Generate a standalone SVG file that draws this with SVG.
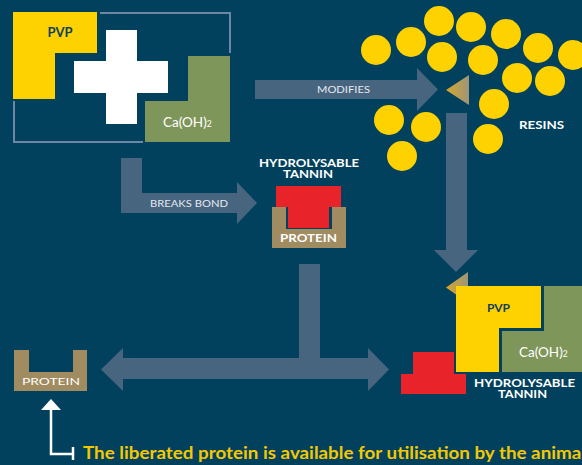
<svg xmlns="http://www.w3.org/2000/svg" width="582" height="465" viewBox="0 0 582 465">
<defs>
<style>
.bg{fill:#01415E}
.arrow{fill:#48657F}
.yellow{fill:#FDD200}
.green{fill:#7F965A}
.red{fill:#E8232A}
.tan{fill:#A08C60}
.frame{fill:none;stroke:#6D86A3;stroke-width:2}
.t{font-family:"Lato","Open Sans","DejaVu Sans",sans-serif}
.w{fill:#FFFFFF}
.lab{fill:#E4EAF0;font-size:9.5px}
.b{font-weight:bold}
.dk{fill:#12405E}
</style>
<linearGradient id="gold" x1="0" y1="0" x2="1" y2="0">
<stop offset="0" stop-color="#D6A62A"/>
<stop offset="1" stop-color="#9E9679"/>
</linearGradient>
</defs>
<rect class="bg" x="0" y="0" width="582" height="465"/>

<g id="connectors">
<!-- breaks bond L-arrow -->
<polygon class="arrow" points="121,158 142,158 142,193 237,193 237,182 257,203 237,224 237,213 121,213"/>
<!-- modifies arrow -->
<polygon class="arrow" points="255,80 417,80 417,68 438,89.5 417,111 417,99 255,99"/>
<!-- down arrow -->
<polygon class="arrow" points="446,113 467,113 467,250 478,250 456,272 434,250 446,250"/>
<!-- T connector with two heads -->
<polygon class="arrow" points="299,264 320,264 320,358 368,358 368,348 389,369.5 368,391 368,379 123,379 123,391 101,369.5 123,348 123,358 299,358"/>
<!-- white arrow to liberated protein -->
<polyline points="51,408 51,454 73,454" fill="none" stroke="#FFFFFF" stroke-width="2.5"/>
<line x1="73" y1="447" x2="73" y2="460" stroke="#FFFFFF" stroke-width="2.5"/>
<polygon points="51,399 61,410 41,410" fill="#FFFFFF"/>
</g>

<g id="pvp-plus-caoh">
<polyline class="frame" points="100,13 230,13 230,53"/>
<polyline class="frame" points="14,101 14,142 143,142"/>
<polygon class="yellow" points="13,12 97,12 97,53 55,53 55,99 13,99"/>
<text class="t b dk" x="60" y="37" font-size="13" text-anchor="middle">PVP</text>
<rect x="106" y="30" width="31" height="94" fill="#FFFFFF"/>
<rect x="74" y="61" width="94" height="32" fill="#FFFFFF"/>
<polygon class="green" points="188,56 230,56 230,142 145,142 145,101 188,101"/>
<text class="t w" x="163" y="127" font-size="13.5">Ca(OH)<tspan font-size="8.5">2</tspan></text>
</g>

<g id="label-modifies">
<text class="t lab" x="343.5" y="93" text-anchor="middle" textLength="53" lengthAdjust="spacingAndGlyphs">MODIFIES</text>
</g>
<g id="label-breaks-bond">
<text class="t lab" x="189" y="207" text-anchor="middle" textLength="78" lengthAdjust="spacingAndGlyphs">BREAKS BOND</text>
</g>

<g id="tannin-protein">
<text class="t b w" x="309" y="167" font-size="10.5" text-anchor="middle" textLength="100" lengthAdjust="spacingAndGlyphs">HYDROLYSABLE</text>
<text class="t b w" x="308" y="178" font-size="10.5" text-anchor="middle" textLength="50" lengthAdjust="spacingAndGlyphs">TANNIN</text>
<polygon class="tan" points="272,207 286,207 286,229 332,229 332,207 346,207 346,248 272,248"/>
<polygon class="red" points="276,186 341,186 341,207 329,207 329,228 288,228 288,207 276,207"/>
<text class="t b w" x="308.5" y="242" font-size="11.5" text-anchor="middle" textLength="57" lengthAdjust="spacingAndGlyphs">PROTEIN</text>
</g>

<g id="resins">
<circle class="yellow" cx="376" cy="50" r="15"/>
<circle class="yellow" cx="411" cy="42" r="15"/>
<circle class="yellow" cx="439" cy="21" r="15"/>
<circle class="yellow" cx="471" cy="27" r="15"/>
<circle class="yellow" cx="506" cy="34" r="15"/>
<circle class="yellow" cx="538" cy="48" r="15"/>
<circle class="yellow" cx="573" cy="55" r="15"/>
<circle class="yellow" cx="442" cy="57" r="15"/>
<circle class="yellow" cx="483" cy="60" r="15"/>
<circle class="yellow" cx="517" cy="78" r="15"/>
<circle class="yellow" cx="550" cy="81" r="15"/>
<circle class="yellow" cx="494" cy="104" r="15"/>
<circle class="yellow" cx="488" cy="139" r="15"/>
<circle class="yellow" cx="389" cy="120" r="15"/>
<circle class="yellow" cx="426" cy="127" r="15"/>
<circle class="yellow" cx="402" cy="156" r="15"/>
<polygon points="446,90 469,75 469,105" fill="url(#gold)"/>
<text class="t b w" x="541.5" y="129" font-size="11" text-anchor="middle" textLength="45" lengthAdjust="spacingAndGlyphs">RESINS</text>
</g>

<g id="complex">
<polygon points="446,287.5 468,272 468,303" fill="url(#gold)"/>
<polygon class="green" points="544,286 582,286 582,372 502,372 502,331 544,331"/>
<polygon class="yellow" points="456,286 541,286 541,328 499,328 499,372 456,372"/>
<text class="t b dk" x="498.5" y="312" font-size="12" text-anchor="middle">PVP</text>
<text class="t w" x="519" y="357" font-size="13.5">Ca(OH)<tspan font-size="8.5">2</tspan></text>
<polygon class="red" points="413,352 454,352 454,374 466,374 466,394 401,394 401,374 413,374"/>
<text class="t b w" x="524.5" y="387" font-size="10.5" text-anchor="middle" textLength="101" lengthAdjust="spacingAndGlyphs">HYDROLYSABLE</text>
<text class="t b w" x="522.5" y="398" font-size="10.5" text-anchor="middle" textLength="49" lengthAdjust="spacingAndGlyphs">TANNIN</text>
</g>

<g id="liberated-protein">
<polygon class="tan" points="14,350 29,350 29,372 73,372 73,350 87,350 87,391 14,391"/>
<text class="t w" x="51" y="385" font-size="9.5" text-anchor="middle" textLength="58" lengthAdjust="spacingAndGlyphs">PROTEIN</text>
</g>

<g id="caption">
<text class="t b" x="83" y="459" font-size="16.5" fill="#F4C800" textLength="503" lengthAdjust="spacingAndGlyphs">The liberated protein is available for utilisation by the animal</text>
</g>
</svg>
